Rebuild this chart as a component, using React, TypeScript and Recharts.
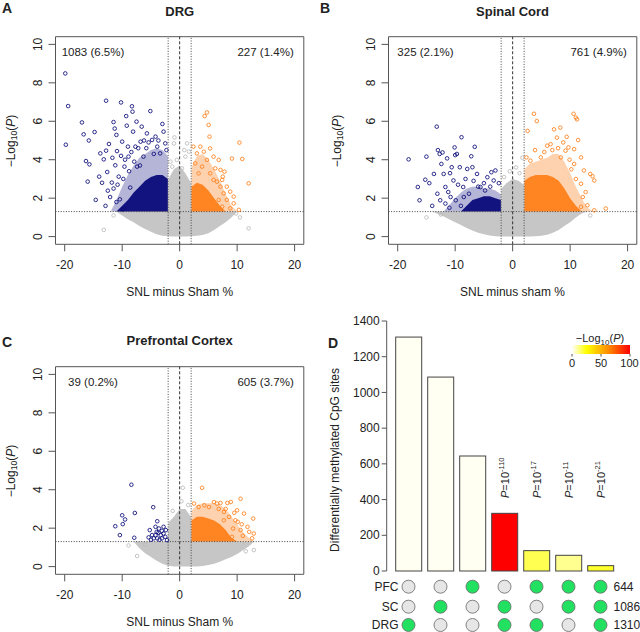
import React from "react";
import {
  Area,
  Bar,
  BarChart,
  ComposedChart,
  ReferenceArea,
  ReferenceLine,
  Scatter,
  XAxis,
  YAxis,
} from "recharts";

const _ = null;
const P05 = 1.301; // -log10(0.05)
const DIFF = 2;

// ---------- A: DRG ----------
const drgGrid = [-13, -12, -11, -10, -9, -8, -7, -6, -5, -4, -3, -2.05, -1.95, -1, 0, 1, 1.95, 2.05, 3, 4, 5, 6, 7, 8, 9, 10];
const drgGreyLo = [_, _, 1.3, 1.1, 0.9, 0.75, 0.55, 0.4, 0.25, 0.12, 0.05, 0.02, 0.02, 0, 0, 0, 0.02, 0.02, 0.05, 0.08, 0.18, 0.35, 0.55, 0.75, 1.0, 1.3];
const drgGreyHi = [_, _, 1.3, 1.3, 1.3, 1.3, 1.3, 1.3, 1.3, 1.3, 1.3, 1.3, 3.0, 3.5, 3.7, 3.3, 2.8, 1.3, 1.3, 1.3, 1.3, 1.3, 1.3, 1.3, 1.3, 1.3];
const drgBlueHalo = [_, 1.3, 1.9, 2.6, 3.2, 3.7, 4.1, 4.3, 4.5, 4.6, 4.5, 4.2, _, _, _, _, _, _, _, _, _, _, _, _, _, _];
const drgBlueCore = [_, _, 1.3, 1.6, 1.9, 2.3, 2.6, 2.9, 3.1, 3.2, 3.2, 3.0, _, _, _, _, _, _, _, _, _, _, _, _, _, _];
const drgOrangeHalo = [_, _, _, _, _, _, _, _, _, _, _, _, _, _, _, _, _, 3.6, 4.2, 4.3, 4.0, 3.5, 2.9, 2.2, 1.6, 1.3];
const drgOrangeCore = [_, _, _, _, _, _, _, _, _, _, _, _, _, _, _, _, _, 2.6, 2.8, 2.7, 2.4, 2.0, 1.6, 1.3, _, _];
const drgBlue = [
  [-19.9, 8.49], [-19.4, 6.79], [-19.8, 4.78], [-17.0, 5.94], [-16.7, 5.32], [-16.3, 3.93], [-16.0, 2.86],
  [-15.8, 5.0], [-15.7, 3.76], [-14.8, 5.44], [-14.6, 1.91], [-14.0, 3.12], [-13.8, 4.33], [-13.2, 4.02],
  [-12.8, 7.07], [-12.8, 4.47], [-12.6, 3.36], [-12.5, 2.39], [-12.3, 4.82], [-12.1, 2.06], [-11.8, 2.81],
  [-11.5, 5.96], [-11.3, 5.62], [-11.2, 3.71], [-11.0, 5.29], [-10.9, 4.45], [-10.6, 3.12], [-10.4, 1.94],
  [-10.2, 6.98], [-10.0, 4.94], [-9.9, 1.42], [-9.6, 3.64], [-9.3, 6.27], [-9.2, 5.77], [-9.0, 4.68],
  [-8.9, 4.16], [-8.6, 2.55], [-8.3, 6.78], [-8.2, 6.5], [-8.1, 5.46], [-7.7, 4.68], [-7.5, 5.98],
  [-7.4, 3.64], [-6.8, 4.94], [-6.6, 5.72], [-6.3, 4.16], [-5.7, 5.37], [-5.1, 6.53], [-4.8, 5.03],
  [-4.2, 5.2], [-3.9, 4.68], [-3.0, 5.86], [-2.8, 5.46], [-3.4, 4.33], [-2.5, 4.85], [-11.5, 2.5],
  [-11.0, 1.8], [-12.9, 1.6], [-10.8, 2.7], [-9.8, 3.0], [-10.2, 4.2], [-9.5, 4.0], [-8.8, 3.4],
  [-8.4, 4.4], [-7.9, 3.9], [-7.2, 4.6], [-6.9, 3.7], [-6.2, 5.0], [-5.8, 4.6], [-5.4, 4.9],
  [-4.5, 4.3], [-3.7, 5.0], [-2.3, 4.5], [-13.5, 2.8], [-11.7, 4.1],
];
const drgOrange = [
  [4.75, 6.46], [4.35, 6.27], [5.04, 5.81], [5.2, 5.2], [10.4, 4.89], [9.1, 4.06], [10.9, 4.04],
  [12.0, 2.77], [7.8, 3.38], [7.5, 3.12], [9.4, 2.08], [7.1, 2.6], [3.6, 4.68], [2.4, 4.68], [3.0, 4.33],
  [4.2, 4.42], [5.3, 4.59], [5.9, 4.16], [6.8, 3.99], [4.75, 3.99], [2.7, 3.81], [3.9, 3.64], [6.2, 3.55],
  [7.1, 3.47], [5.3, 3.29], [3.3, 3.29], [6.5, 2.86], [7.4, 2.95], [5.9, 2.95], [8.2, 2.6], [8.8, 2.34],
  [7.65, 2.25], [9.4, 1.73], [8.2, 1.91], [6.8, 1.91], [7.4, 1.56], [8.8, 1.47], [10.3, 1.39],
];
const drgGrey = [
  [-13.2, 0.35], [10.5, 1.0], [12.0, 0.43], [-0.9, 5.16], [-1.0, 4.85], [1.3, 4.85], [1.6, 4.42],
  [1.0, 4.16], [-0.5, 3.99], [-1.3, 3.64], [0.4, 3.55], [9.8, 1.2], [-11.5, 1.1], [-1.6, 3.9], [0.8, 4.5],
];

// ---------- B: Spinal cord ----------
const scGrid = [-16, -14, -12, -10, -9, -8, -7, -6, -5, -4, -3, -2.05, -1.95, -1, 0, 1, 1.95, 2.05, 3, 4, 5, 6, 7, 8, 9, 10, 11, 12, 13, 14];
const scGreyLo = [_, 1.3, 1.05, 0.75, 0.6, 0.45, 0.32, 0.2, 0.12, 0.06, 0.02, 0, 0, 0, 0, 0, 0, 0, 0, 0.02, 0.05, 0.1, 0.2, 0.35, 0.55, 0.75, 1.0, 1.2, 1.3, _];
const scGreyHi = [_, 1.3, 1.3, 1.3, 1.3, 1.3, 1.3, 1.3, 1.3, 1.3, 1.3, 1.3, 2.5, 2.8, 3.0, 2.9, 2.7, 1.3, 1.3, 1.3, 1.3, 1.3, 1.3, 1.3, 1.3, 1.3, 1.3, 1.3, 1.3, _];
const scBlueHalo = [_, _, 1.3, 2.0, 2.3, 2.5, 2.6, 2.6, 2.5, 2.5, 2.4, 2.2, _, _, _, _, _, _, _, _, _, _, _, _, _, _, _, _, _, _];
const scBlueCore = [_, _, _, _, 1.3, 1.6, 1.9, 2.0, 2.1, 2.1, 2.0, 1.9, _, _, _, _, _, _, _, _, _, _, _, _, _, _, _, _, _, _];
const scOrangeHalo = [_, _, _, _, _, _, _, _, _, _, _, _, _, _, _, _, _, 3.5, 3.8, 3.9, 4.0, 4.1, 4.3, 4.3, 3.9, 3.3, 2.6, 2.0, 1.5, 1.3];
const scOrangeCore = [_, _, _, _, _, _, _, _, _, _, _, _, _, _, _, _, _, 2.9, 3.1, 3.2, 3.2, 3.2, 3.1, 2.9, 2.5, 2.0, 1.6, 1.3, _, _];
const scBlue = [
  [-18.1, 4.02], [-16.5, 2.58], [-16.2, 1.89], [-15.0, 4.16], [-15.2, 2.96], [-14.5, 2.78], [-13.2, 5.72],
  [-13.0, 4.5], [-12.7, 4.3], [-12.4, 3.78], [-12.2, 4.38], [-12.0, 3.26], [-11.7, 2.58], [-11.4, 4.07],
  [-11.2, 2.32], [-10.6, 3.61], [-10.1, 4.64], [-10.0, 4.24], [-10.3, 2.92], [-8.9, 5.17], [-9.7, 4.3],
  [-9.2, 3.61], [-8.6, 2.58], [-7.9, 3.52], [-7.2, 4.18], [-6.6, 4.67], [-7.0, 3.61], [-7.6, 2.23],
  [-6.2, 3.26], [-5.6, 2.58], [-4.4, 3.09], [-3.7, 3.35], [-3.0, 3.44], [-2.4, 2.78], [-3.3, 2.92],
  [-5.0, 2.78], [-10.8, 2.06], [-12.6, 1.89], [-9.9, 1.89], [-8.5, 2.06], [-11.7, 1.72], [-13.1, 2.23],
  [-13.7, 3.26], [-14.0, 1.6], [-9.5, 2.7], [-8.2, 3.0], [-6.8, 2.9], [-6.0, 2.6], [-4.8, 2.4],
  [-3.9, 2.6], [-10.9, 3.3], [-9.0, 1.6], [-11.0, 1.5],
];
const scOrange = [
  [3.7, 6.39], [4.2, 6.01], [2.6, 5.5], [10.6, 6.39], [11.0, 6.19], [11.2, 6.1], [8.3, 5.67], [7.2, 5.58],
  [7.7, 5.15], [9.4, 5.19], [11.4, 5.02], [9.7, 4.64], [9.2, 4.47], [6.6, 4.81], [6.0, 4.73], [10.7, 4.55],
  [11.9, 4.12], [10.7, 3.78], [12.4, 3.44], [13.5, 3.26], [13.9, 3.14], [14.2, 2.92], [11.9, 2.75],
  [12.7, 2.32], [12.2, 2.06], [13.0, 1.63], [11.9, 1.55], [16.2, 1.46], [14.2, 1.37], [4.9, 4.12],
  [3.1, 3.95], [2.4, 4.12], [8.4, 4.12], [5.5, 4.4], [7.9, 4.6], [9.9, 4.0], [8.8, 4.9], [6.9, 4.5],
  [10.2, 3.5], [11.0, 3.0], [3.9, 4.5],
];
const scGrey = [
  [-15.0, 1.0], [1.7, 4.1], [-0.5, 3.4], [0.6, 3.6], [-1.5, 3.1], [13.5, 1.1], [-12.5, 1.15], [1.2, 3.3],
];

// ---------- C: Prefrontal cortex ----------
const pfcGrid = [-8, -7, -6, -5, -4, -3, -2.05, -1.95, -1, 0, 1, 1.95, 2.05, 3, 4, 5, 6, 7, 8, 9, 10, 11, 12, 13];
const pfcGreyLo = [1.3, 0.95, 0.7, 0.5, 0.3, 0.15, 0.05, 0.05, 0, 0, 0, 0, 0, 0, 0.03, 0.08, 0.15, 0.25, 0.38, 0.5, 0.65, 0.85, 1.05, 1.3];
const pfcGreyHi = [1.3, 1.3, 1.3, 1.3, 1.3, 1.3, 1.3, 2.3, 2.6, 3.0, 3.0, 2.6, 1.3, 1.3, 1.3, 1.3, 1.3, 1.3, 1.3, 1.3, 1.3, 1.3, 1.3, 1.3];
const pfcOrangeHalo = [_, _, _, _, _, _, _, _, _, _, _, _, 2.9, 3.2, 3.3, 3.3, 3.3, 3.2, 3.0, 2.6, 2.2, 1.8, 1.5, 1.3];
const pfcOrangeCore = [_, _, _, _, _, _, _, _, _, _, _, _, 2.4, 2.6, 2.6, 2.5, 2.4, 2.2, 1.9, 1.5, 1.3, _, _, _];
const pfcBlue = [
  [-8.4, 4.26], [-4.6, 3.09], [-11.2, 2.1], [-10.0, 2.67], [-9.5, 2.45], [-9.9, 2.21], [-7.8, 2.79],
  [-10.4, 1.64], [-7.9, 1.5], [-3.9, 2.36], [-4.2, 2.07], [-2.8, 2.07], [-5.2, 1.9], [-3.7, 1.76],
  [-3.3, 1.64], [-4.8, 1.64], [-5.4, 1.52], [-4.5, 1.47], [-3.9, 1.47], [-3.1, 1.47], [-2.2, 1.38],
  [-2.5, 1.55], [-3.1, 1.86], [-3.6, 1.98], [-2.8, 1.72], [-4.2, 1.64], [-5.0, 1.4], [-2.4, 1.9],
  [-3.5, 1.4], [-4.0, 1.8],
];
const pfcOrange = [
  [3.9, 4.1], [10.6, 3.53], [12.8, 2.5], [8.9, 3.36], [8.3, 3.31], [10.0, 2.93], [11.2, 2.76], [10.1, 2.33],
  [11.8, 2.07], [12.1, 1.81], [12.9, 1.72], [12.6, 1.47], [10.6, 1.9], [9.3, 1.98], [9.7, 2.41], [6.5, 3.28],
  [5.1, 3.1], [7.1, 3.31], [5.96, 3.36], [4.3, 3.19], [3.3, 3.1], [2.5, 3.28], [7.7, 2.84], [8.6, 2.59],
  [7.7, 2.41], [9.1, 1.55], [9.5, 2.8], [11.0, 1.6], [8.0, 3.0], [6.8, 3.0], [10.8, 2.2],
];
const pfcGrey = [
  [0.55, 4.1], [-7.4, 0.55], [-8.9, 1.1], [12.9, 0.86], [-1.2, 2.9], [0.3, 3.4], [-6.0, 1.15], [11.5, 0.8], [1.5, 3.2],
];

// ---------- D: overlap ----------
const setNames = ["DRG", "SC", "PFC", "DRG+SC", "DRG+PFC", "SC+PFC", "All"];
const setCounts = [1310, 1086, 644, 323, 114, 88, 30];
const setLogP = [_, _, _, 110, 17, 11, 21];
const rowNames = ["PFC", "SC", "DRG"];
const rowTotals = [644, 1086, 1310];
const pfcIn = [0, 0, 1, 0, 1, 1, 1];
const scIn = [0, 1, 0, 1, 0, 1, 1];
const drgIn = [1, 0, 0, 1, 1, 0, 1];
const countTicks = [0, 200, 400, 600, 800, 1000, 1200, 1400];

const FONT = '"Liberation Sans", Arial, Helvetica, sans-serif';
const INK = "#222";
const AXIS = "#555";
const NAVY = "#0B0B7A";
const ORANGE = "#FF7F1A";
const GREY = "#C6C6C6";
const GREEN = "#22E060";

const HEAT: [number, number[]][] = [
  [0, [255, 255, 255]],
  [0.25, [255, 255, 0]],
  [0.6, [255, 150, 0]],
  [1, [255, 0, 0]],
];

function heat(v: number | null) {
  if (v == null) return "#FFFFF2";
  const t = Math.min(v, 100) / 100;
  for (let i = 1; i < HEAT.length; i++) {
    const [t1, c1] = HEAT[i];
    const [t0, c0] = HEAT[i - 1];
    if (t <= t1) {
      const f = (t - t0) / (t1 - t0);
      const c = c0.map((a, k) => Math.round(a + (c1[k] - a) * f));
      return `rgb(${c[0]},${c[1]},${c[2]})`;
    }
  }
  return "rgb(255,0,0)";
}

const pair = (lo: any, hi: any) => (lo == null || hi == null ? null : [lo, hi]);

function buildRows(grid: number[], lo: any[], hi: any[], bH: any[], bC: any[], oH: any[], oC: any[]) {
  return grid.map((x, i) => ({
    x,
    grey: pair(lo[i], hi[i]),
    blueHalo: pair(P05, bH[i]),
    blueCore: pair(P05, bC[i]),
    orangeHalo: pair(P05, oH[i]),
    orangeCore: pair(P05, oC[i]),
  }));
}

const toPts = (a: number[][]) => a.map(([x, y]) => ({ x, y }));

const ring = (c: string) => (p: any) =>
  p.cx == null ? <g /> : <circle cx={p.cx} cy={p.cy} r={1.8} fill="none" stroke={c} strokeWidth={0.85} />;

const XTick = (p: any) => (
  <text x={p.x} y={p.y + 18} textAnchor="middle" fontSize={12} fill={INK}>
    {p.payload.value}
  </text>
);

const YTick = (p: any) => (
  <text
    x={p.x - 6.5}
    y={p.y}
    textAnchor="middle"
    fontSize={12}
    fill={INK}
    transform={`rotate(-90 ${p.x - 6.5} ${p.y})`}
  >
    {p.payload.value}
  </text>
);

const areaProps = {
  type: "linear" as const,
  stroke: "none",
  isAnimationActive: false,
  dot: false,
  activeDot: false,
};

function Volcano({ left, top, width, rows, grey, blue, orange }: any) {
  return (
    <div style={{ position: "absolute", left, top }}>
      <ComposedChart
        width={width}
        height={300}
        data={rows}
        margin={{ top: 36.7, right: width - 303.8, bottom: 0, left: 0 }}
      >
        <XAxis
          type="number"
          dataKey="x"
          domain={[-21.6, 21.6]}
          ticks={[-20, -10, 0, 10, 20]}
          allowDataOverflow
          axisLine={false}
          tickLine={{ stroke: AXIS }}
          tickSize={7}
          tickMargin={0}
          height={55.7}
          interval={0}
          tick={XTick}
        />
        <YAxis
          type="number"
          domain={[-0.4, 10.4]}
          ticks={[0, 2, 4, 6, 8, 10]}
          allowDataOverflow
          axisLine={false}
          tickLine={{ stroke: AXIS }}
          tickSize={7}
          tickMargin={0}
          width={55.5}
          interval={0}
          tick={YTick}
        />
        <Area dataKey="grey" fill={GREY} fillOpacity={1} {...areaProps} />
        <Area dataKey="blueHalo" fill={NAVY} fillOpacity={0.3} {...areaProps} />
        <Area dataKey="blueCore" fill={NAVY} fillOpacity={0.95} {...areaProps} />
        <Area dataKey="orangeHalo" fill={ORANGE} fillOpacity={0.35} {...areaProps} />
        <Area dataKey="orangeCore" fill={ORANGE} fillOpacity={0.95} {...areaProps} />
        <Scatter data={toPts(grey)} dataKey="y" isAnimationActive={false} shape={ring("#BBBBBB")} />
        <Scatter data={toPts(blue)} dataKey="y" isAnimationActive={false} shape={ring(NAVY)} />
        <Scatter data={toPts(orange)} dataKey="y" isAnimationActive={false} shape={ring(ORANGE)} />
        <ReferenceLine x={0} stroke="#333" strokeDasharray="3 2" />
        <ReferenceLine x={-DIFF} stroke="#444" strokeDasharray="1 1.6" />
        <ReferenceLine x={DIFF} stroke="#444" strokeDasharray="1 1.6" />
        <ReferenceLine y={P05} stroke="#444" strokeDasharray="1 1.6" />
        <ReferenceArea x1={-21.6} x2={21.6} y1={-0.4} y2={10.4} fill="none" fillOpacity={0} stroke={AXIS} strokeWidth={1} />
      </ComposedChart>
    </div>
  );
}

function Txt({ x, y, size = 12, bold = false, rot = 0, align = "c", children }: any) {
  const tx = align === "l" ? "0" : align === "r" ? "-100%" : "-50%";
  return (
    <div
      style={{
        position: "absolute",
        left: x,
        top: y,
        transform: `translate(${tx},-50%) rotate(${rot}deg)`,
        fontSize: size,
        fontWeight: bold ? 700 : 400,
        whiteSpace: "nowrap",
        lineHeight: 1,
        color: INK,
      }}
    >
      {children}
    </div>
  );
}

const LogP = () => (
  <span>
    −Log
    <sub style={{ fontSize: "0.72em", verticalAlign: "-0.25em", lineHeight: 0 }}>10</sub>(<i>P</i>)
  </span>
);

const barRows = setNames.map((name, i) => ({ name, n: setCounts[i], lp: setLogP[i] }));
const ROW_DY = [15.7, 35.7, 54];

const BarShape = (p: any) => {
  const lp = p.payload?.lp;
  const base = p.y + p.height;
  const cx = p.x + p.width / 2 + 3.8;
  return (
    <g>
      <rect x={p.x} y={p.y} width={p.width} height={p.height} fill={heat(lp)} stroke="#444" strokeWidth={1} />
      {lp != null && (
        <text x={cx} y={base - 73} fontSize={11} fill={INK} transform={`rotate(-90 ${cx} ${base - 73})`}>
          <tspan fontStyle="italic">P</tspan>
          <tspan>=10</tspan>
          <tspan dy={-4.5} fontSize={7.5}>{`-${lp}`}</tspan>
        </text>
      )}
    </g>
  );
};

const DotTick = (p: any) => {
  const i = setNames.indexOf(p.payload.value);
  const member = [pfcIn, scIn, drgIn];
  return (
    <g>
      {member.map((m, k) => (
        <circle
          key={k}
          cx={p.x}
          cy={p.y + ROW_DY[k]}
          r={6.5}
          fill={m[i] ? GREEN : "#E6E6E6"}
          stroke="#666"
          strokeWidth={0.8}
        />
      ))}
      {i === 0 &&
        rowNames.map((n, k) => (
          <text key={n} x={p.x - 10} y={p.y + ROW_DY[k] + 4.2} textAnchor="end" fontSize={12} fill={INK}>
            {n}
          </text>
        ))}
      {i === setNames.length - 1 &&
        rowTotals.map((n, k) => (
          <text key={k} x={p.x + 13} y={p.y + ROW_DY[k] + 4.2} textAnchor="start" fontSize={12} fill={INK}>
            {n}
          </text>
        ))}
    </g>
  );
};

const CountTick = (p: any) => (
  <text x={p.x - 2} y={p.y + 4.2} textAnchor="end" fontSize={12} fill={INK}>
    {p.payload.value}
  </text>
);

function Overlap() {
  return (
    <div style={{ position: "absolute", left: 320, top: 300 }}>
      <BarChart
        width={320}
        height={332}
        data={barRows}
        margin={{ top: 21, right: 23.5, left: 0, bottom: 0 }}
        barCategoryGap="10%"
      >
        <XAxis
          dataKey="name"
          axisLine={false}
          tickLine={false}
          tickSize={0}
          tickMargin={0}
          height={61}
          interval={0}
          padding={{ left: 5.8, right: 0 }}
          tick={DotTick}
        />
        <YAxis
          domain={[0, 1400]}
          ticks={countTicks}
          width={66.7}
          tickSize={5}
          tickMargin={0}
          axisLine={{ stroke: AXIS }}
          tickLine={{ stroke: AXIS }}
          interval={0}
          tick={CountTick}
        />
        <Bar dataKey="n" isAnimationActive={false} shape={BarShape} />
      </BarChart>
    </div>
  );
}

function HeatLegend() {
  const stops = HEAT.map(([t, c]) => (
    <stop key={t} offset={t} stopColor={`rgb(${c[0]},${c[1]},${c[2]})`} />
  ));
  return (
    <svg width={80} height={45} style={{ position: "absolute", left: 560, top: 330 }}>
      <defs>
        <linearGradient id="heatGrad" x1="0" x2="1" y1="0" y2="0">
          {stops}
        </linearGradient>
      </defs>
      <text x={40} y={12} textAnchor="middle" fontSize={11} fill={INK}>
        −Log<tspan dy={2.5} fontSize={8}>10</tspan>
        <tspan dy={-2.5}>(</tspan>
        <tspan fontStyle="italic">P</tspan>)
      </text>
      <rect x={12} y={15} width={58} height={9} fill="url(#heatGrad)" />
      {[12, 41, 70].map((x) => (
        <line key={x} x1={x} x2={x} y1={24} y2={26.5} stroke={AXIS} />
      ))}
      <text x={12} y={37} textAnchor="middle" fontSize={11} fill={INK}>0</text>
      <text x={41} y={37} textAnchor="middle" fontSize={11} fill={INK}>50</text>
      <text x={69.5} y={37} textAnchor="middle" fontSize={11} fill={INK}>100</text>
    </svg>
  );
}

export default function App() {
  const drgRows = buildRows(drgGrid, drgGreyLo, drgGreyHi, drgBlueHalo, drgBlueCore, drgOrangeHalo, drgOrangeCore);
  const scRows = buildRows(scGrid, scGreyLo, scGreyHi, scBlueHalo, scBlueCore, scOrangeHalo, scOrangeCore);
  const pfcRows = buildRows(pfcGrid, pfcGreyLo, pfcGreyHi, [], [], pfcOrangeHalo, pfcOrangeCore);

  return (
    <div
      style={{
        position: "absolute",
        left: 0,
        top: 0,
        width: 640,
        height: 632,
        overflow: "hidden",
        background: "#fff",
        fontFamily: FONT,
        color: INK,
      }}
    >
      <Volcano left={0} top={0} width={320} rows={drgRows} grey={drgGrey} blue={drgBlue} orange={drgOrange} />
      <Volcano left={333} top={0} width={307} rows={scRows} grey={scGrey} blue={scBlue} orange={scOrange} />
      <Volcano left={0} top={330} width={320} rows={pfcRows} grey={pfcGrey} blue={pfcBlue} orange={pfcOrange} />
      <Overlap />
      <HeatLegend />

      <Txt x={2} y={8} size={14} bold align="l">A</Txt>
      <Txt x={179.7} y={11} size={13} bold>DRG</Txt>
      <Txt x={93} y={53} size={11.5}>1083 (6.5%)</Txt>
      <Txt x={265.6} y={53} size={11.5}>227 (1.4%)</Txt>
      <Txt x={179.7} y={292} size={12}>SNL minus Sham %</Txt>
      <Txt x={11} y={140.5} size={12} rot={-90}><LogP /></Txt>

      <Txt x={320} y={8} size={14} bold align="l">B</Txt>
      <Txt x={512.5} y={11} size={13} bold>Spinal Cord</Txt>
      <Txt x={425.5} y={53} size={11.5}>325 (2.1%)</Txt>
      <Txt x={598.6} y={53} size={11.5}>761 (4.9%)</Txt>
      <Txt x={512.5} y={292} size={12}>SNL minus sham %</Txt>
      <Txt x={337} y={140.5} size={12} rot={-90}><LogP /></Txt>

      <Txt x={2} y={342} size={14} bold align="l">C</Txt>
      <Txt x={179.7} y={339.5} size={13} bold>Prefrontal Cortex</Txt>
      <Txt x={93} y={382.7} size={11.5}>39 (0.2%)</Txt>
      <Txt x={265.6} y={382.7} size={11.5}>605 (3.7%)</Txt>
      <Txt x={179.7} y={621.7} size={12}>SNL minus Sham %</Txt>
      <Txt x={11} y={470.5} size={12} rot={-90}><LogP /></Txt>

      <Txt x={328} y={343} size={14} bold align="l">D</Txt>
      <Txt x={335} y={460} size={12} rot={-90}>Differentially methylated CpG sites</Txt>
    </div>
  );
}
